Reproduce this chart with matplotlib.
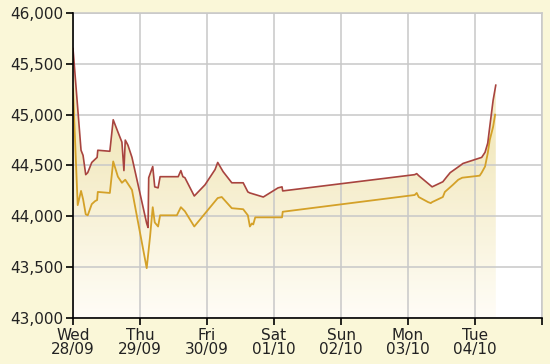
import numpy as np
import matplotlib
matplotlib.use("Agg")
import matplotlib.pyplot as plt
from matplotlib.colors import LinearSegmentedColormap
from matplotlib.patches import Polygon

# x in days from Wed 28/09 00:00
sell_x = [0.00, 0.12, 0.15, 0.19, 0.22, 0.28, 0.36, 0.37, 0.55, 0.60, 0.67, 0.73, 0.76,
          0.78, 0.82, 0.88, 1.10, 1.12, 1.13, 1.19, 1.22, 1.27, 1.30, 1.57, 1.61, 1.64,
          1.67, 1.81, 1.97, 2.12, 2.16, 2.24, 2.37, 2.54, 2.61, 2.64, 2.84, 3.06, 3.12,
          3.13, 5.10, 5.13, 5.16, 5.36, 5.52, 5.58, 5.63, 5.78, 5.82, 5.96, 6.10, 6.15,
          6.19, 6.22, 6.27, 6.31]
sell_y = [45650, 44650, 44600, 44410, 44430, 44530, 44580, 44650, 44640, 44950, 44830,
          44730, 44450, 44750, 44700, 44580, 43930, 43890, 44380, 44490, 44290, 44280,
          44390, 44390, 44450, 44390, 44380, 44200, 44310, 44460, 44530, 44440, 44330,
          44330, 44240, 44230, 44190, 44280, 44290, 44250, 44410, 44420, 44400, 44290,
          44340, 44390, 44430, 44500, 44520, 44550, 44580, 44630, 44720, 44880, 45140,
          45290]

buy_x = [0.00, 0.07, 0.12, 0.15, 0.19, 0.22, 0.28, 0.33, 0.36, 0.37, 0.55, 0.60, 0.67,
         0.73, 0.78, 0.88, 1.10, 1.15, 1.19, 1.22, 1.27, 1.30, 1.55, 1.61, 1.67, 1.81,
         2.16, 2.22, 2.37, 2.54, 2.61, 2.64, 2.67, 2.69, 2.72, 3.12, 3.13, 5.10, 5.13,
         5.16, 5.30, 5.34, 5.36, 5.52, 5.55, 5.67, 5.75, 5.81, 6.07, 6.10, 6.15, 6.19,
         6.22, 6.27, 6.30]
buy_y = [45250, 44110, 44250, 44170, 44020, 44010, 44120, 44150, 44160, 44240, 44230,
         44540, 44390, 44330, 44360, 44260, 43490, 43800, 44090, 43940, 43900, 44010,
         44010, 44090, 44050, 43900, 44180, 44190, 44080, 44070, 44010, 43900, 43930,
         43920, 43990, 43990, 44045, 44210, 44230, 44190, 44140, 44130, 44140, 44190,
         44240, 44310, 44360, 44380, 44400, 44430, 44490, 44620, 44750, 44880, 45000]

day_labels = ["Wed\n28/09", "Thu\n29/09", "Fri\n30/09", "Sat\n01/10",
              "Sun\n02/10", "Mon\n03/10", "Tue\n04/10"]
y_ticks = [43000, 43500, 44000, 44500, 45000, 45500, 46000]

fig = plt.figure(figsize=(5.5, 3.64), dpi=100, facecolor="#FAF7D8")
ax = fig.add_axes([73 / 550, 1 - 318 / 364, 469 / 550, 305 / 364])
ax.set_facecolor("white")
ax.set_xlim(0, 7)
ax.set_ylim(43000, 46000)

# gradient fill under the sell line
cmap = LinearSegmentedColormap.from_list("fill", ["#FFFDF7", "#F3EAC2"])
grad = np.linspace(0, 1, 256).reshape(-1, 1)
img = ax.imshow(grad, cmap=cmap, aspect="auto", origin="lower",
                extent=[0, sell_x[-1], 43000, 44700], zorder=1)
poly = Polygon(list(zip(sell_x, sell_y)) + [(sell_x[-1], 43000), (0, 43000)],
               closed=True, facecolor="none", edgecolor="none")
ax.add_patch(poly)
img.set_clip_path(poly)
ax.imshow(np.ones((2, 2)), cmap=LinearSegmentedColormap.from_list("c", ["#F3EAC2", "#F3EAC2"]),
          aspect="auto", extent=[0, sell_x[-1], 44700, 46000], zorder=1).set_clip_path(poly)
ax.set_xlim(0, 7)
ax.set_ylim(43000, 46000)

ax.plot(buy_x, buy_y, color="#D4A128", lw=1.3, zorder=4)
ax.plot(sell_x, sell_y, color="#A8443F", lw=1.2, zorder=5)

ax.set_xticks(range(8))
ax.set_xticklabels(day_labels + [""])
ax.set_yticks(y_ticks)
ax.set_yticklabels([f"{v:,}" for v in y_ticks])
ax.grid(True, color="#C8C8C8", lw=1.1, zorder=2)
ax.set_axisbelow(False)
for line in ax.get_xgridlines() + ax.get_ygridlines():
    line.set_zorder(2)

for s in ["top", "right"]:
    ax.spines[s].set_color("#C8C8C8")
    ax.spines[s].set_linewidth(1.1)
for s in ["left", "bottom"]:
    ax.spines[s].set_color("black")
    ax.spines[s].set_linewidth(1.2)
    ax.spines[s].set_zorder(6)

ax.tick_params(axis="both", direction="out", length=5, width=1.2, color="black",
               labelsize=11, labelcolor="#222222", pad=2)
for t in ax.get_xticklabels():
    t.set_linespacing(0.95)
ax.tick_params(axis="x", pad=2)

fig.savefig("out.png", dpi=100, facecolor=fig.get_facecolor())
